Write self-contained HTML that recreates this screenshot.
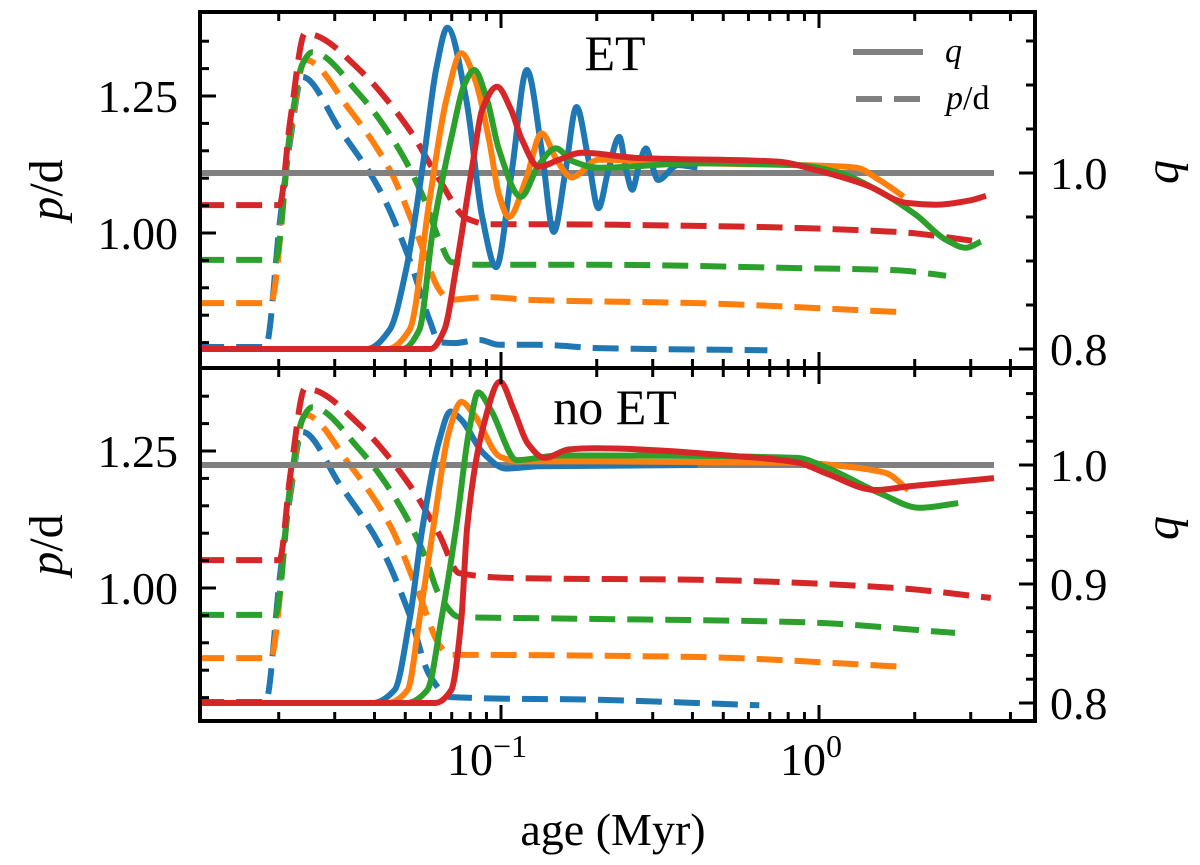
<!DOCTYPE html>
<html><head><meta charset="utf-8"><style>
html,body{margin:0;padding:0;background:#fff;}
svg{display:block;font-family:"Liberation Serif",serif;}
</style></head><body>
<svg id="chart" width="1200" height="865" viewBox="0 0 1200 865">
<defs>
<clipPath id="clipTop"><rect x="200" y="12" width="835" height="356"/></clipPath>
<clipPath id="clipBot"><rect x="200" y="368" width="835" height="353"/></clipPath>
</defs>
<g id="series-top" clip-path="url(#clipTop)"></g>
<g id="series-bot" clip-path="url(#clipBot)"></g>
<g id="ticks"></g>
<rect x="200" y="12" width="835" height="356" fill="none" stroke="#000" stroke-width="4"/>
<rect x="200" y="368" width="835" height="353" fill="none" stroke="#000" stroke-width="4"/>
<text x="615" y="70" font-size="50" text-anchor="middle">ET</text>
<text x="615" y="424" font-size="50" text-anchor="middle">no ET</text>
<g>
<line x1="853" y1="52" x2="923" y2="52" stroke="#808080" stroke-width="6"/>
<text x="945" y="62" font-size="34" font-style="italic">q</text>
<line x1="856" y1="99" x2="920" y2="99" stroke="#808080" stroke-width="6" stroke-dasharray="26,12"/>
<text x="946" y="109" font-size="34"><tspan font-style="italic">p</tspan>/d</text>
</g>
<text transform="translate(62,190) rotate(-90)" font-size="48" text-anchor="middle"><tspan font-style="italic">p</tspan>/d</text>
<text transform="translate(62,545) rotate(-90)" font-size="48" text-anchor="middle"><tspan font-style="italic">p</tspan>/d</text>
<text transform="translate(1178,172) rotate(-90)" font-size="48" font-style="italic" text-anchor="middle">q</text>
<text transform="translate(1178,528) rotate(-90)" font-size="48" font-style="italic" text-anchor="middle">q</text>
<text x="613" y="845" font-size="46" text-anchor="middle">age (Myr)</text>
</svg>
<script>
// ---- data ----
const colors = ['#1f77b4','#ff7f0e','#2ca02c','#d62728'];
const seriesNames = ['blue','orange','green','red'];
// top panel p/d (dashed)
const topBlueT = [0.01116,0.01817,0.0202,0.02175,0.0237,0.0312,0.0416,0.0516,0.0596,0.064,0.0714,0.0854,0.0986,0.1314,0.2024,0.688];
const topBlueP = [0.792,0.792,1.024,1.170,1.285,1.188,1.078,0.951,0.841,0.801,0.799,0.805,0.796,0.796,0.790,0.786];
const topOrangeT = [0.01116,0.01884,0.02175,0.02423,0.0335,0.0447,0.0554,0.064,0.0688,0.0794,0.0917,0.1223,0.415,1.753];
const topOrangeP = [0.872,0.872,1.179,1.316,1.224,1.115,0.987,0.896,0.878,0.881,0.883,0.878,0.872,0.856];
const topGreenT = [0.01116,0.01953,0.02175,0.0237,0.0255,0.036,0.048,0.0575,0.064,0.0698,0.0854,0.2024,0.853,1.753,2.51];
const topGreenP = [0.951,0.951,1.188,1.307,1.330,1.252,1.151,1.060,0.987,0.947,0.942,0.942,0.936,0.932,0.922];
const topRedT = [0.01116,0.0201,0.02175,0.02423,0.026,0.036,0.0516,0.064,0.0778,0.0917,0.1223,0.415,1.753,3.23];
const topRedP = [1.051,1.051,1.206,1.365,1.361,1.297,1.188,1.097,1.027,1.016,1.016,1.013,1.002,0.984];
// bottom panel p/d (dashed)
const botBlueT = [0.01116,0.01817,0.0202,0.02175,0.0237,0.0312,0.0416,0.0516,0.0596,0.0693,0.2024,0.649];
const botBlueP = [0.792,0.792,1.024,1.170,1.285,1.188,1.078,0.951,0.841,0.801,0.796,0.786];
const botOrangeT = [0.01116,0.01884,0.02175,0.02423,0.0335,0.0447,0.0554,0.064,0.0688,0.0794,0.415,1.88];
const botOrangeP = [0.872,0.872,1.179,1.316,1.224,1.115,0.987,0.896,0.878,0.878,0.874,0.856];
const botGreenT = [0.01116,0.01953,0.02175,0.0237,0.0255,0.036,0.048,0.0575,0.064,0.0739,0.1223,0.853,2.68];
const botGreenP = [0.951,0.951,1.188,1.307,1.330,1.252,1.151,1.060,0.987,0.947,0.945,0.938,0.918];
const botRedT = [0.01116,0.0201,0.02175,0.02423,0.026,0.036,0.0516,0.064,0.0739,0.1138,0.415,1.753,3.47];
const botRedP = [1.051,1.051,1.206,1.365,1.361,1.297,1.188,1.097,1.027,1.018,1.015,1.0,0.982];
// top panel q (solid)
const topBlueQT = [0.01116,0.0380,0.0447,0.0505,0.0567,0.0627,0.0678,0.0778,0.0873,0.0965,0.1082,0.1206,0.1343,0.1465,0.1596,0.1728,0.1884,0.2024,0.2175,0.2355,0.2476,0.2585,0.2718,0.2858,0.2985,0.3117,0.3598,0.415];
const topBlueQ = [0.800,0.800,0.822,0.893,1.007,1.120,1.165,1.083,0.950,0.893,1.003,1.117,1.026,0.933,1.003,1.075,1.015,0.960,1.003,1.041,1.003,0.981,1.009,1.028,1.009,0.992,1.009,1.006];
const topOrangeQT = [0.01116,0.0440,0.0516,0.0596,0.0673,0.075,0.0829,0.0917,0.0986,0.1059,0.1197,0.1343,0.1496,0.1667,0.2024,0.415,0.853,1.314,1.518,1.69,1.845];
const topOrangeQ = [0.800,0.800,0.822,0.969,1.083,1.136,1.106,1.038,0.975,0.950,0.992,1.045,1.015,0.995,1.015,1.011,1.009,1.006,0.994,0.983,0.973];
const topGreenQT = [0.01116,0.0490,0.0554,0.0609,0.0703,0.0766,0.0824,0.0904,0.0986,0.1155,0.1314,0.1486,0.169,0.2024,0.415,0.853,1.138,1.518,2.024,2.51,2.90,3.23];
const topGreenQ = [0.800,0.800,0.822,0.932,1.045,1.100,1.117,1.083,1.026,0.973,1.009,1.028,1.013,1.006,1.011,1.009,1.001,0.981,0.952,0.924,0.915,0.922];
const topRedQT = [0.01116,0.0600,0.0664,0.0723,0.0812,0.0873,0.0972,0.1075,0.1163,0.1314,0.152,0.1791,0.270,0.739,0.986,1.413,1.884,2.337,3.0,3.35];
const topRedQ = [0.800,0.800,0.822,0.893,1.007,1.072,1.098,1.072,1.038,1.007,1.015,1.023,1.017,1.013,1.003,0.986,0.966,0.964,0.969,0.974];
// bottom panel q (solid)
const botBlueQT = [0.01116,0.0395,0.0463,0.0516,0.0567,0.064,0.0693,0.075,0.0879,0.1036,0.1314,0.415];
const botBlueQ = [0.800,0.800,0.811,0.870,0.948,1.021,1.045,1.038,1.010,0.997,0.999,1.000];
const botOrangeQT = [0.01116,0.0440,0.0509,0.0554,0.0613,0.0688,0.075,0.0824,0.0993,0.1138,0.2024,0.853,1.285,1.631,1.91];
const botOrangeQ = [0.800,0.800,0.811,0.870,0.948,1.029,1.053,1.042,1.007,1.003,1.003,1.002,0.998,0.993,0.979];
const botGreenQT = [0.01116,0.0505,0.0587,0.0649,0.0723,0.0794,0.0848,0.0930,0.1122,0.152,0.2024,0.853,1.052,1.563,2.07,2.74];
const botGreenQ = [0.800,0.800,0.811,0.870,0.948,1.029,1.061,1.046,1.004,1.008,1.008,1.006,0.998,0.976,0.964,0.968];
const botRedQT = [0.01116,0.0620,0.0698,0.075,0.0783,0.0879,0.0993,0.1098,0.1214,0.1372,0.1631,0.1967,0.579,0.859,1.052,1.507,1.91,3.55];
const botRedQ = [0.800,0.800,0.811,0.870,0.948,1.032,1.070,1.046,1.018,1.006,1.013,1.014,1.007,1.002,0.993,0.979,0.982,0.989];
// reference lines q = 1
const refQ = 1.0;
const refT = [0.01116, 3.55];
// ticks
const xMajor = [0.1, 1];
const xMinor = [0.02,0.03,0.04,0.05,0.06,0.07,0.08,0.09,0.2,0.3,0.4,0.5,0.6,0.7,0.8,0.9,2,3,4];
const xTickLabels = ['−1','0'];
const pMajor = [1.0, 1.25];
const pMinorStep = 0.05;
const qTopMajor = [0.8, 1.0];
const qTopLabels = ['0.8','1.0'];
const qBotMajor = [0.8, 0.9, 1.0];
const qBotLabels = ['0.8','0.9','1.0'];

// ---- axes ----
const X0 = 501, DEC = 318;
function xs(t){ return X0 + DEC*Math.log10(t/0.1); }
function pTop(p){ return 233 - (p-1.0)*548; }
function pBot(p){ return 588 - (p-1.0)*548; }
function qTop(q){ return 173 - (q-1.0)*880; }
function qBot(q){ return 465 - (q-1.0)*1190; }

const NS = 'http://www.w3.org/2000/svg';
function mk(tag, attrs, parent){ const e=document.createElementNS(NS,tag); for(const k in attrs) e.setAttribute(k,attrs[k]); parent.appendChild(e); return e; }

// monotone cubic (Fritsch–Carlson) in x
function pathD(ts, vs, ys){
  const X = ts.map(xs), Y = vs.map(ys), n = X.length;
  if(n<2) return '';
  const d=[], m=new Array(n);
  for(let i=0;i<n-1;i++) d.push((Y[i+1]-Y[i])/Math.max(1e-6,(X[i+1]-X[i])));
  m[0]=d[0]; m[n-1]=d[n-2];
  for(let i=1;i<n-1;i++){
    if(d[i-1]*d[i]<=0) m[i]=0;
    else { const h0=X[i]-X[i-1], h1=X[i+1]-X[i]; const w1=2*h1+h0, w2=h1+2*h0; m[i]=(w1+w2)/(w1/d[i-1]+w2/d[i]); }
  }
  let s='M'+X[0].toFixed(1)+','+Y[0].toFixed(1);
  for(let i=0;i<n-1;i++){
    const h=(X[i+1]-X[i])/3;
    s+=' C'+(X[i]+h).toFixed(1)+','+(Y[i]+m[i]*h).toFixed(1)+' '+(X[i+1]-h).toFixed(1)+','+(Y[i+1]-m[i+1]*h).toFixed(1)+' '+X[i+1].toFixed(1)+','+Y[i+1].toFixed(1);
  }
  return s;
}
function drawLine(g, ts, vs, ys, color, dashed, name){
  const p = mk('path', {d: pathD(ts,vs,ys), fill:'none', stroke:color, 'stroke-width':6, 'stroke-linejoin':'round'}, g);
  if(dashed) p.setAttribute('stroke-dasharray','26,12');
  
  
}
const gT = document.getElementById('series-top');
const gB = document.getElementById('series-bot');

const topDash = [[topBlueT,topBlueP],[topOrangeT,topOrangeP],[topGreenT,topGreenP],[topRedT,topRedP]];
const botDash = [[botBlueT,botBlueP],[botOrangeT,botOrangeP],[botGreenT,botGreenP],[botRedT,botRedP]];
const topSol = [[topBlueQT,topBlueQ],[topOrangeQT,topOrangeQ],[topGreenQT,topGreenQ],[topRedQT,topRedQ]];
const botSol = [[botBlueQT,botBlueQ],[botOrangeQT,botOrangeQ],[botGreenQT,botGreenQ],[botRedQT,botRedQ]];

topDash.forEach((s,i)=>drawLine(gT,s[0],s[1],pTop,colors[i],true,'top-pd-'+seriesNames[i]));
botDash.forEach((s,i)=>drawLine(gB,s[0],s[1],pBot,colors[i],true,'bottom-pd-'+seriesNames[i]));
drawLine(gT, refT, [refQ,refQ], qTop, '#808080', false, 'top-q-reference-line');
drawLine(gB, refT, [refQ,refQ], qBot, '#808080', false, 'bottom-q-reference-line');
topSol.forEach((s,i)=>drawLine(gT,s[0],s[1],qTop,colors[i],false,'top-q-'+seriesNames[i]));
botSol.forEach((s,i)=>drawLine(gB,s[0],s[1],qBot,colors[i],false,'bottom-q-'+seriesNames[i]));

// ---- ticks ----
const gk = document.getElementById('ticks');
function tick(x1,y1,x2,y2,name){
  const l = mk('line',{x1,y1,x2,y2,stroke:'#000','stroke-width':3},gk);
  
  
}
function label(x,y,txt,anchor,name){
  const t = mk('text',{x,y,'font-size':46,'text-anchor':anchor},gk);
  t.textContent = txt;
  
  
}
[[12,368],[368,721]].forEach(([yt,yb])=>{
  xMajor.forEach(t=>{ const x=xs(t); tick(x,yt,x,yt+16,'x-major-tick'); tick(x,yb,x,yb-16,'x-major-tick'); });
  xMinor.forEach(t=>{ const x=xs(t); tick(x,yt,x,yt+9,'x-minor-tick'); tick(x,yb,x,yb-9,'x-minor-tick'); });
});
for(let p=0.75;p<=1.45;p+=pMinorStep){
  const pr=Math.round(p*100)/100;
  const major = pMajor.some(m=>Math.abs(m-pr)<1e-6);
  const len = major?16:9;
  const y1=pTop(pr); if(y1>14&&y1<366) tick(200,y1,200+len,y1,'p-tick-top');
  const y2=pBot(pr); if(y2>370&&y2<719) tick(200,y2,200+len,y2,'p-tick-bottom');
}
pMajor.forEach(p=>{ label(178,pTop(p)+16,p.toFixed(2),'end','p-tick-label-top'); label(178,pBot(p)+16,p.toFixed(2),'end','p-tick-label-bottom'); });
for(let q=0.75;q<=1.25;q+=0.05){
  const qr=Math.round(q*100)/100;
  const major = qTopMajor.some(m=>Math.abs(m-qr)<1e-6);
  const y=qTop(qr); if(y>14&&y<366) tick(1035,y,1035-(major?16:9),y,'q-tick-top');
}
for(let q=0.76;q<=1.10;q+=0.02){
  const qr=Math.round(q*100)/100;
  const major = qBotMajor.some(m=>Math.abs(m-qr)<1e-6);
  const y=qBot(qr); if(y>370&&y<719) tick(1035,y,1035-(major?16:9),y,'q-tick-bottom');
}
qTopMajor.forEach((q,i)=>label(1050,qTop(q)+16,qTopLabels[i],'start','q-tick-label-top'));
qBotMajor.forEach((q,i)=>label(1050,qBot(q)+16,qBotLabels[i],'start','q-tick-label-bottom'));
xMajor.forEach((t,i)=>{
  const x=xs(t);
  const tx = mk('text',{x:x-(i===0?14:8),y:775,'font-size':46,'text-anchor':'middle'},gk);
  
  
  const a = mk('tspan',{},tx); a.textContent='10';
  const b = mk('tspan',{dy:-18,'font-size':32},tx); b.textContent=xTickLabels[i];
});
</script>
</body></html>
